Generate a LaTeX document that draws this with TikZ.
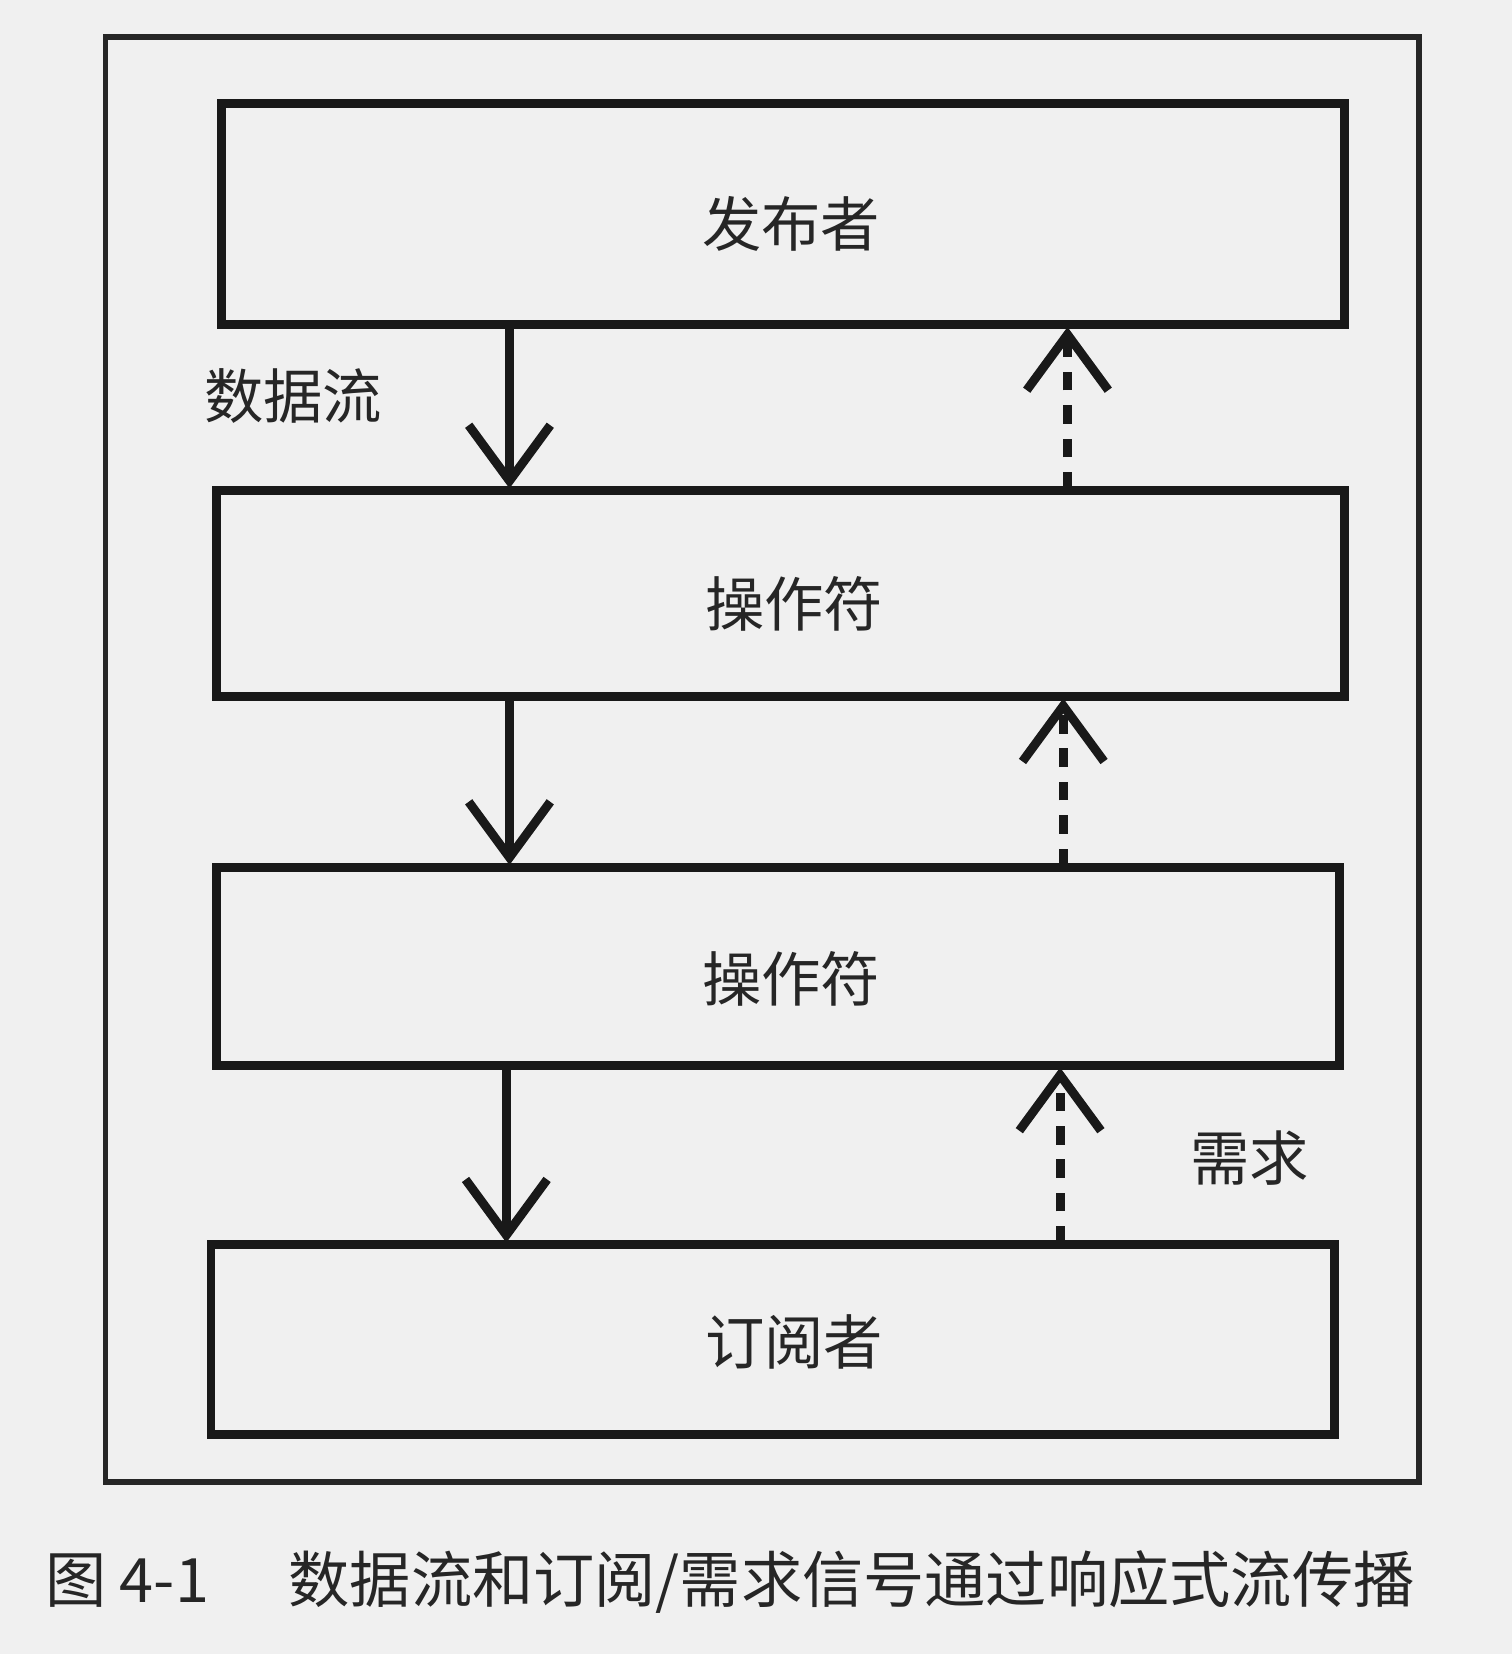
\documentclass[tikz,border=0pt]{standalone}
\usepackage{fontspec}
\newfontfamily\cjk{Noto Sans CJK SC}
\usetikzlibrary{arrows.meta}
\begin{document}
\begin{tikzpicture}[x=0.01cm,y=-0.01cm,
  box/.style={draw=black!90,line width=2.4pt},
  lbl/.style={font=\cjk\fontsize{16}{18}\selectfont,text=black!85},
  down/.style={line width=2.4pt,draw=black!90,-{Straight Barb[length=15pt,width=22pt,line width=2.4pt]}},
  up/.style={line width=2.4pt,draw=black!90,dash pattern=on 5pt off 4pt,-{Straight Barb[length=15pt,width=22pt,line width=2.4pt]}}]
\fill[gray!12] (0,0) rectangle (1433,1568);
\useasboundingbox (0,0) rectangle (1433,1568);
\draw[line width=1.6pt,black!85] (100,35) rectangle (1345,1405);
\draw[box] (210,98) rectangle (1275,308);
\node[lbl] (pt) at (750,212) {发布者};
\draw[box] (205,465) rectangle (1275,660);
\node[lbl] (o1) at (753,572) {操作符};
\draw[box] (205,822) rectangle (1270,1010);
\node[lbl] (o2) at (750,928) {操作符};
\draw[box] (200,1180) rectangle (1265,1360);
\node[lbl] (s) at (753,1272) {订阅者};
\coordinate (a1s) at (483,308); \coordinate (a1e) at (483,463);
\coordinate (a2s) at (483,660); \coordinate (a2e) at (483,820);
\coordinate (a3s) at (480,1010); \coordinate (a3e) at (480,1178);
\draw[down] (a1s) -- (a1e);
\draw[down] (a2s) -- (a2e);
\draw[down] (a3s) -- (a3e);
\coordinate (b1s) at (1012,465); \coordinate (b1e) at (1012,310);
\coordinate (b2s) at (1008,822); \coordinate (b2e) at (1008,662);
\coordinate (b3s) at (1005,1180); \coordinate (b3e) at (1005,1012);
\draw[up] (b1s) -- (b1e);
\draw[up] (b2s) -- (b2e);
\draw[up] (b3s) -- (b3e);
\node[lbl] (df) at (278,375) {数据流};
\node[lbl] (dm) at (1185,1098) {需求};
\node[font=\cjk\fontsize{16.5}{20}\selectfont,text=black!85,anchor=west,inner sep=0] (cap) at (42,1500) {图 4-1\hspace{1.3em}数据流和订阅/需求信号通过响应式流传播};
\end{tikzpicture}
\end{document}
